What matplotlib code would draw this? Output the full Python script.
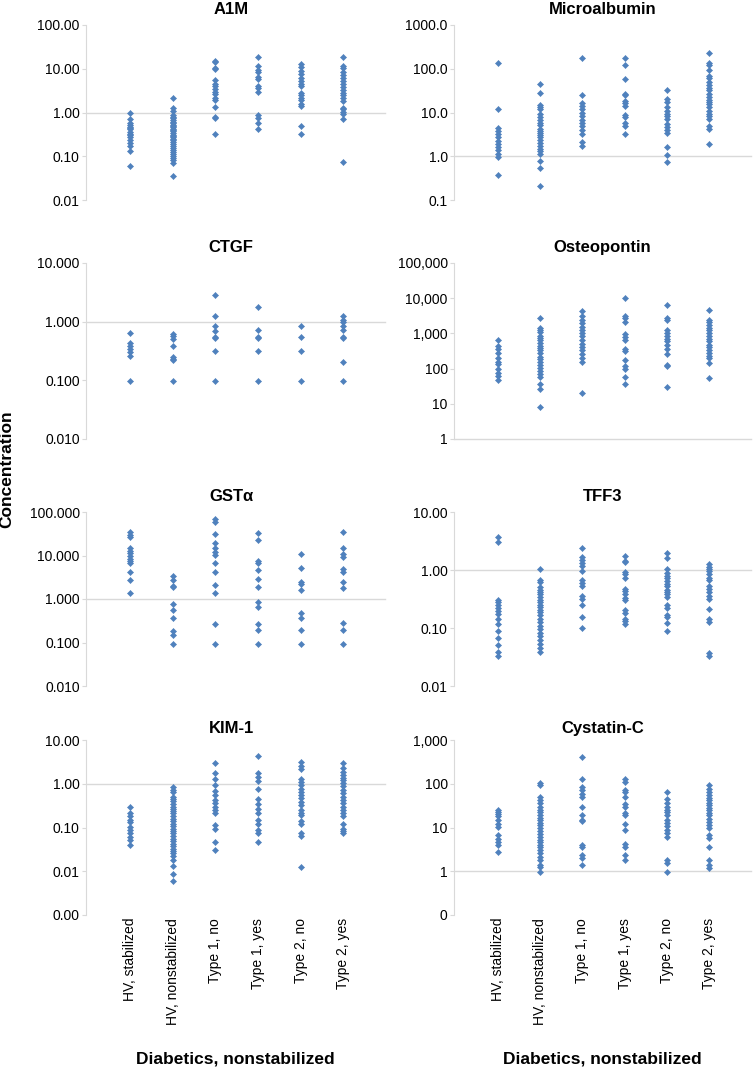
import numpy as np
import matplotlib
matplotlib.use('Agg')
import matplotlib.pyplot as plt
from matplotlib.ticker import FixedLocator, FuncFormatter, NullLocator

plt.rcParams['font.family'] = ['Liberation Sans', 'DejaVu Sans']

# group labels (same for every panel)
groups = ['HV, stabilized', 'HV, nonstabilized', 'Type 1, no',
          'Type 1, yes', 'Type 2, no', 'Type 2, yes']

# values, one list per group
a1m = [
    [0.96, 0.71, 0.58, 0.52, 0.47, 0.44, 0.41, 0.36, 0.33, 0.31, 0.27, 0.235, 0.2, 0.175, 0.134, 0.061],
    [2.18, 1.24, 1.1, 0.9, 0.8, 0.75, 0.68, 0.62, 0.58, 0.53, 0.5, 0.46, 0.43, 0.4, 0.37, 0.34, 0.31,
     0.29, 0.27, 0.25, 0.23, 0.21, 0.19, 0.17, 0.155, 0.14, 0.125, 0.11, 0.1, 0.09, 0.08, 0.07, 0.035],
    [15.0, 14.0, 10.6, 9.7, 5.5, 4.6, 4.0, 3.4, 2.9, 2.6, 2.2, 1.9, 1.36, 0.8, 0.74, 0.32],
    [18.2, 11.6, 9.4, 8.5, 6.6, 5.8, 4.0, 3.6, 2.9, 0.88, 0.74, 0.59, 0.43],
    [12.6, 11.2, 8.9, 7.6, 6.0, 5.2, 4.6, 4.0, 2.8, 2.5, 2.2, 1.9, 1.6, 1.4, 0.5, 0.32],
    [18.2, 11.6, 10.2, 8.5, 7.2, 6.0, 5.2, 4.5, 3.8, 3.3, 2.8, 2.5, 2.1, 1.8, 1.3, 1.18, 1.05, 0.93, 0.71, 0.073],
]
microalbumin = [
    [134, 11.8, 4.5, 3.8, 3.3, 2.7, 2.2, 1.95, 1.6, 1.38, 1.15, 0.97, 0.37],
    [44.6, 28.3, 14.6, 13.3, 12, 9.4, 8.1, 6.9, 5.8, 5.1, 4.3, 3.7, 3.4, 3.0, 2.7, 2.3, 2.0,
     1.7, 1.5, 1.35, 1.13, 0.79, 0.53, 0.21],
    [177, 24.6, 16.4, 14, 12, 10, 8.2, 6.9, 5.8, 4.9, 4.0, 3.3, 2.1, 1.7],
    [177, 119, 57, 26.9, 24.6, 18.3, 16.4, 14, 8.6, 7.9, 5.8, 4.9, 3.3],
    [32, 20.7, 17.4, 13.2, 11, 9.4, 8.2, 7.2, 5.6, 4.7, 4.0, 3.4, 1.64, 1.06, 0.72],
    [230, 136, 119, 94, 70, 60, 49, 42, 37, 32, 27, 22.5, 19.5, 17.4, 15.3, 13.2, 11, 9.4, 8.2,
     7.2, 4.9, 4.1, 1.88],
]
ctgf = [
    [0.64, 0.44, 0.39, 0.34, 0.31, 0.256, 0.099],
    [0.62, 0.56, 0.51, 0.38, 0.25, 0.235, 0.22, 0.099],
    [2.81, 1.26, 0.855, 0.70, 0.55, 0.52, 0.32, 0.099],
    [1.78, 0.72, 0.55, 0.52, 0.32, 0.099],
    [0.86, 0.54, 0.32, 0.099],
    [1.26, 1.08, 0.97, 0.86, 0.73, 0.55, 0.52, 0.205, 0.099],
]
osteopontin = [
    [630, 444, 356, 274, 198, 159, 136, 96, 77, 62, 48],
    [2720, 1412, 1230, 1080, 855, 735, 630, 540, 444, 381, 327, 274, 220, 185, 159, 128, 103,
     84, 68, 57, 37, 26, 8.3],
    [4200, 3030, 2410, 1960, 1560, 1270, 1000, 820, 630, 500, 406, 330, 262, 198, 159, 20.8],
    [10100, 3030, 2720, 2050, 975, 780, 658, 356, 310, 177, 120, 96, 57, 36],
    [6240, 2720, 2330, 1210, 1000, 820, 690, 590, 474, 356, 262, 128, 115, 31],
    [4500, 2440, 2050, 1720, 1410, 1230, 1000, 855, 690, 590, 474, 406, 345, 274, 235, 198, 143, 53],
]
gst_alpha = [
    [34.8, 30.3, 26, 14.5, 12.8, 11.2, 9.7, 8.5, 7.5, 6.6, 4.2, 2.7, 1.4],
    [3.4, 2.8, 2.0, 1.85, 0.77, 0.56, 0.36, 0.18, 0.147, 0.092],
    [70, 59, 30.8, 19.5, 14.5, 12, 10.2, 6.6, 4.2, 2.1, 1.35, 0.27, 0.092],
    [33.6, 23.2, 7.4, 6.6, 4.6, 2.9, 1.85, 0.87, 0.66, 0.27, 0.197, 0.092],
    [11.1, 5.2, 2.5, 2.2, 1.6, 0.47, 0.37, 0.197, 0.092],
    [34.8, 14.5, 11.1, 9.0, 4.8, 4.2, 2.5, 1.75, 0.28, 0.197, 0.092],
]
tff3 = [
    [3.77, 3.08, 0.31, 0.28, 0.25, 0.22, 0.2, 0.176, 0.145, 0.116, 0.089, 0.067, 0.05, 0.039, 0.033],
    [1.04, 0.67, 0.61, 0.5, 0.45, 0.41, 0.38, 0.34, 0.31, 0.28, 0.25, 0.23, 0.206, 0.19, 0.165,
     0.145, 0.127, 0.11, 0.097, 0.083, 0.072, 0.061, 0.054, 0.046, 0.039],
    [2.39, 1.65, 1.48, 1.32, 1.19, 0.97, 0.66, 0.59, 0.52, 0.35, 0.32, 0.245, 0.154, 0.101],
    [1.76, 1.45, 1.35, 0.91, 0.85, 0.73, 0.47, 0.43, 0.38, 0.33, 0.3, 0.206, 0.18, 0.145, 0.13, 0.119],
    [1.93, 1.6, 1.04, 0.88, 0.8, 0.73, 0.64, 0.58, 0.52, 0.45, 0.41, 0.38, 0.34, 0.245, 0.22,
     0.17, 0.154, 0.122, 0.089],
    [1.27, 1.14, 1.04, 0.95, 0.85, 0.73, 0.66, 0.52, 0.47, 0.41, 0.35, 0.32, 0.215, 0.145, 0.127,
     0.037, 0.033],
]
kim1 = [
    [0.29, 0.215, 0.18, 0.15, 0.134, 0.105, 0.09, 0.075, 0.061, 0.051, 0.039],
    [0.84, 0.73, 0.65, 0.51, 0.45, 0.4, 0.35, 0.3, 0.27, 0.24, 0.21, 0.18, 0.16, 0.14, 0.123,
     0.107, 0.094, 0.083, 0.073, 0.063, 0.056, 0.049, 0.043, 0.037, 0.033, 0.029, 0.026, 0.022,
     0.0185, 0.013, 0.0086, 0.006],
    [3.05, 1.8, 1.3, 0.92, 0.7, 0.54, 0.43, 0.36, 0.3, 0.255, 0.21, 0.112, 0.094, 0.047, 0.031],
    [4.3, 1.75, 1.42, 1.15, 0.77, 0.45, 0.35, 0.27, 0.21, 0.146, 0.123, 0.086, 0.075, 0.047],
    [3.2, 2.5, 2.2, 1.3, 1.1, 0.92, 0.77, 0.65, 0.54, 0.48, 0.38, 0.32, 0.255, 0.22, 0.19, 0.14,
     0.118, 0.075, 0.063, 0.0126],
    [3.05, 2.3, 1.9, 1.6, 1.35, 1.23, 1.04, 0.87, 0.73, 0.61, 0.51, 0.43, 0.36, 0.3, 0.255,
     0.215, 0.18, 0.123, 0.094, 0.083, 0.073],
]
cystatin_c = [
    [25, 22.5, 20, 18.5, 15, 12.3, 10.3, 6.7, 5.6, 4.7, 3.95, 2.8],
    [105, 92, 50, 42, 36, 29, 25.6, 22.6, 19, 16.8, 14.6, 12.7, 11.2, 9.5, 8.3, 7, 6.1, 5.3,
     4.7, 3.95, 3.5, 3.0, 2.55, 2.15, 1.8, 1.39, 1.22, 0.97],
    [404, 130, 84, 73, 59, 50, 29, 19, 15, 14, 3.95, 3.5, 2.33, 2.0, 1.38],
    [130, 108, 73, 64, 50, 35, 29, 21.5, 19, 12.3, 8.7, 4.1, 3.5, 2.4, 1.8],
    [64, 46, 36, 29, 25.6, 22.6, 19, 15, 12.7, 10.6, 8.7, 7.3, 6.1, 1.84, 1.55, 0.97],
    [92, 77, 64, 54, 48, 42, 36, 32, 28, 24.7, 21.5, 19, 16, 13.4, 11.2, 9.5, 6.7, 5.9, 3.5,
     1.8, 1.38, 1.16],
]

titles = ['A1M', 'Microalbumin', 'CTGF', 'Osteopontin',
          'GSTα', 'TFF3', 'KIM-1', 'Cystatin-C']
panels = [a1m, microalbumin, ctgf, osteopontin, gst_alpha, tff3, kim1, cystatin_c]
# decade limits (log10) per panel
ylims = [(-2, 2), (-1, 3), (-2, 1), (0, 5), (-2, 2), (-2, 1), (-3, 1), (-1, 3)]


def fmt_dec(n):
    return FuncFormatter(lambda v, p: f'{v:.{n}f}')


def fmt_comma(v, p):
    return f'{v:,.0f}'


formats = [fmt_dec(2), fmt_dec(1), fmt_dec(3), FuncFormatter(fmt_comma),
           fmt_dec(3), fmt_dec(2), fmt_dec(2), FuncFormatter(fmt_comma)]

blue = '#4F81BD'
grey = '#d9d9d9'

W, H = 754, 1067
fig = plt.figure(figsize=(W / 100, H / 100), dpi=100)

col_x = [(86, 385), (454, 751)]
row_y = [(25, 200), (263, 439), (512, 686), (740, 915)]
title_pad = [8, 8, 8, 5]

for k, data in enumerate(panels):
    r, c = divmod(k, 2)
    x0, x1 = col_x[c]
    y0, y1 = row_y[r]
    ax = fig.add_axes([x0 / W, 1 - y1 / H, (x1 - x0) / W, (y1 - y0) / H])
    for i, vals in enumerate(data):
        ax.plot(np.full(len(vals), i), vals, linestyle='none', marker='D',
                markersize=3.1, color=blue, markeredgewidth=0.4, clip_on=False)
    ax.set_yscale('log')
    lo, hi = ylims[k]
    ax.set_ylim(10.0 ** lo, 10.0 ** hi)
    ax.yaxis.set_major_locator(FixedLocator([10.0 ** e for e in range(lo, hi + 1)]))
    ax.yaxis.set_minor_locator(NullLocator())
    ax.yaxis.set_major_formatter(formats[k])
    ax.set_xlim(-1.03, 5.98)
    ax.axhline(1, color=grey, linewidth=1, zorder=0, clip_on=False)
    for s in ['top', 'right', 'bottom']:
        ax.spines[s].set_visible(False)
    ax.spines['left'].set_color(grey)
    ax.tick_params(axis='y', length=3, width=0.8, color=grey, labelsize=10, pad=1.5)
    ax.set_xticks(range(len(groups)))
    if r == 3:
        ax.set_xticklabels(groups, rotation=90, fontsize=10)
        ax.tick_params(axis='x', length=0, pad=2)
    else:
        ax.tick_params(axis='x', length=0, labelbottom=False)
    ax.set_title(titles[k], fontsize=12, fontweight='bold', pad=title_pad[r],
                 x=0.485 if c == 0 else 0.5)

for c in range(2):
    x0, x1 = col_x[c]
    fig.text((x0 + x1) / 2 / W, 1 - 1063 / H, 'Diabetics, nonstabilized',
             ha='center', va='baseline', fontsize=12.5, fontweight='bold')
fig.text(7 / W, 1 - 469 / H, 'Concentration', rotation=90, ha='center', va='center',
         fontsize=12.5, fontweight='bold')

fig.savefig('out.png', dpi=100)
